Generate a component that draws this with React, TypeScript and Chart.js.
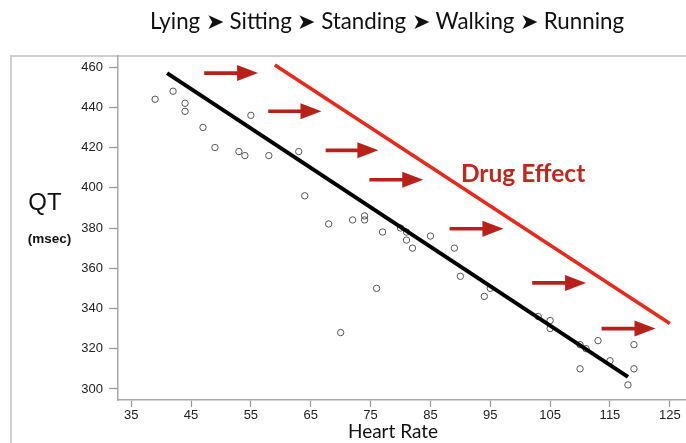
import React, { useEffect, useRef } from "react";
import { Chart, registerables } from "chart.js";
Chart.register(...registerables);

// Observations (heart rate, QT msec)
const heartRate = [39, 42, 44, 44, 47, 49, 53, 54, 55, 58, 63, 64, 68, 70, 72, 74, 74, 76, 77, 80, 81, 81, 82, 85, 89, 90, 94, 95, 103, 105, 105, 110, 111, 113, 115, 110, 118, 119, 119];
const qtValues = [444, 448, 442, 438, 430, 420, 418, 416, 436, 416, 418, 396, 382, 328, 384, 386, 384, 350, 378, 380, 378, 374, 370, 376, 370, 356, 346, 350, 336, 334, 330, 322, 320, 324, 314, 310, 302, 322, 310];

// Regression line (baseline) and shifted line (drug effect)
const fitX = [41, 118];
const fitY = [457, 306];
const drugX = [59, 125];
const drugY = [461, 332.5];

// Arrows showing the shift
const arrowFromX = [47.2, 57.9, 67.5, 74.8, 88.2, 102, 113.6];
const arrowToX = [56.2, 66.8, 76.3, 83.8, 97.2, 111, 122.6];
const arrowY = [457, 438, 418.6, 404, 379.6, 352.7, 330];

const xTicks = [35, 45, 55, 65, 75, 85, 95, 105, 115, 125];
const yTicks = [300, 320, 340, 360, 380, 400, 420, 440, 460];

const titleText = "Lying \u27A4 Sitting \u27A4 Standing \u27A4 Walking \u27A4 Running";
const xTitle = "Heart Rate";
const yTitle = "QT";
const yUnit = "(msec)";
const drugLabel = "Drug Effect";
const drugLabelX = 90.1;
const drugLabelY = 407;

const W = 686;
const H = 443;

const decorPlugin = {
  id: "decor",
  beforeDraw(chart: any) {
    const ctx = chart.ctx;
    ctx.save();
    ctx.strokeStyle = "#cfcfcf";
    ctx.lineWidth = 2;
    ctx.beginPath();
    ctx.moveTo(11, H);
    ctx.lineTo(11, 56);
    ctx.lineTo(W, 56);
    ctx.stroke();
    ctx.restore();
  },
  afterDraw(chart: any) {
    const ctx = chart.ctx;
    const xs = chart.scales.x;
    const ys = chart.scales.y;
    ctx.save();
    // arrows
    ctx.fillStyle = "#b8211a";
    ctx.strokeStyle = "#b8211a";
    for (let i = 0; i < arrowY.length; i++) {
      const x1 = xs.getPixelForValue(arrowFromX[i]);
      const x2 = xs.getPixelForValue(arrowToX[i]);
      const y = ys.getPixelForValue(arrowY[i]);
      const head = 21;
      ctx.lineWidth = 3.6;
      ctx.beginPath();
      ctx.moveTo(x1, y);
      ctx.lineTo(x2 - head + 2, y);
      ctx.stroke();
      ctx.beginPath();
      ctx.moveTo(x2 - head, y - 8);
      ctx.lineTo(x2, y);
      ctx.lineTo(x2 - head, y + 8);
      ctx.closePath();
      ctx.fill();
    }
    // drug label
    ctx.fillStyle = "#c0281e";
    ctx.font = "bold 24.5px Lato";
    ctx.textAlign = "left";
    ctx.textBaseline = "middle";
    ctx.fillText(drugLabel, xs.getPixelForValue(drugLabelX), ys.getPixelForValue(drugLabelY));
    // title
    ctx.fillStyle = "#111";
    ctx.font = "22.3px Lato";
    ctx.textAlign = "center";
    ctx.fillText(titleText, 387, 22);
    // axis titles
    ctx.font = "19px Lato";
    ctx.fillText(xTitle, 393, 432);
    ctx.font = "24px 'Liberation Sans'";
    ctx.fillText(yTitle, 45, 203);
    ctx.font = "bold 13.5px 'Liberation Sans'";
    ctx.fillText(yUnit, 49.5, 239);
    ctx.restore();
  },
};

export default function App() {
  const ref = useRef<HTMLCanvasElement | null>(null);
  useEffect(() => {
    if (!ref.current) return;
    const points = heartRate.map((x, i) => ({ x, y: qtValues[i] }));
    const chart = new Chart(ref.current, {
      type: "scatter",
      data: {
        datasets: [
          {
            type: "line",
            data: drugX.map((x, i) => ({ x, y: drugY[i] })),
            borderColor: "#e8291c",
            borderWidth: 3.5,
            pointRadius: 0,
            showLine: true,
          } as any,
          {
            type: "line",
            data: fitX.map((x, i) => ({ x, y: fitY[i] })),
            borderColor: "#000",
            borderWidth: 4,
            pointRadius: 0,
            showLine: true,
          } as any,
          {
            data: points,
            pointStyle: "circle",
            pointRadius: 3.2,
            pointBorderWidth: 1,
            pointBorderColor: "#555",
            pointBackgroundColor: "rgba(255,255,255,0)",
          },
        ],
      },
      options: {
        animation: false,
        responsive: false,
        maintainAspectRatio: false,
        layout: { autoPadding: false, padding: { left: 0, top: 56, right: 0, bottom: 0 } },
        plugins: { legend: { display: false }, tooltip: { enabled: false }, title: { display: false } },
        scales: {
          x: {
            type: "linear",
            min: 32.8,
            max: 127.7,
            afterBuildTicks: (s: any) => {
              s.ticks = xTicks.map((v) => ({ value: v }));
            },
            afterFit: (s: any) => {
              s.height = 43;
              s.paddingLeft = 0;
              s.paddingRight = 0;
            },
            ticks: {
              autoSkip: false,
              maxRotation: 0,
              padding: 1,
              color: "#222",
              font: { family: "'Liberation Sans'", size: 13 },
            },
            grid: { drawOnChartArea: false, tickLength: 7, tickColor: "#9a9a9a", tickWidth: 1.2 },
            border: { color: "#a8a8a8", width: 1.5 },
          },
          y: {
            type: "linear",
            min: 294.5,
            max: 465.5,
            afterBuildTicks: (s: any) => {
              s.ticks = yTicks.map((v) => ({ value: v }));
            },
            afterFit: (s: any) => {
              s.width = 118;
              s.paddingTop = 0;
              s.paddingBottom = 0;
            },
            ticks: {
              autoSkip: false,
              padding: 6,
              color: "#222",
              font: { family: "'Liberation Sans'", size: 13 },
            },
            grid: { drawOnChartArea: false, tickLength: 9, tickColor: "#9a9a9a", tickWidth: 1.2 },
            border: { color: "#a8a8a8", width: 1.5 },
          },
        },
      },
      plugins: [decorPlugin],
    });
    return () => chart.destroy();
  }, []);
  return (
    <div style={{ position: "absolute", left: 0, top: 0, width: W, height: H, background: "#fff" }}>
      <canvas ref={ref} width={W} height={H} style={{ width: W, height: H, display: "block" }} />
    </div>
  );
}
